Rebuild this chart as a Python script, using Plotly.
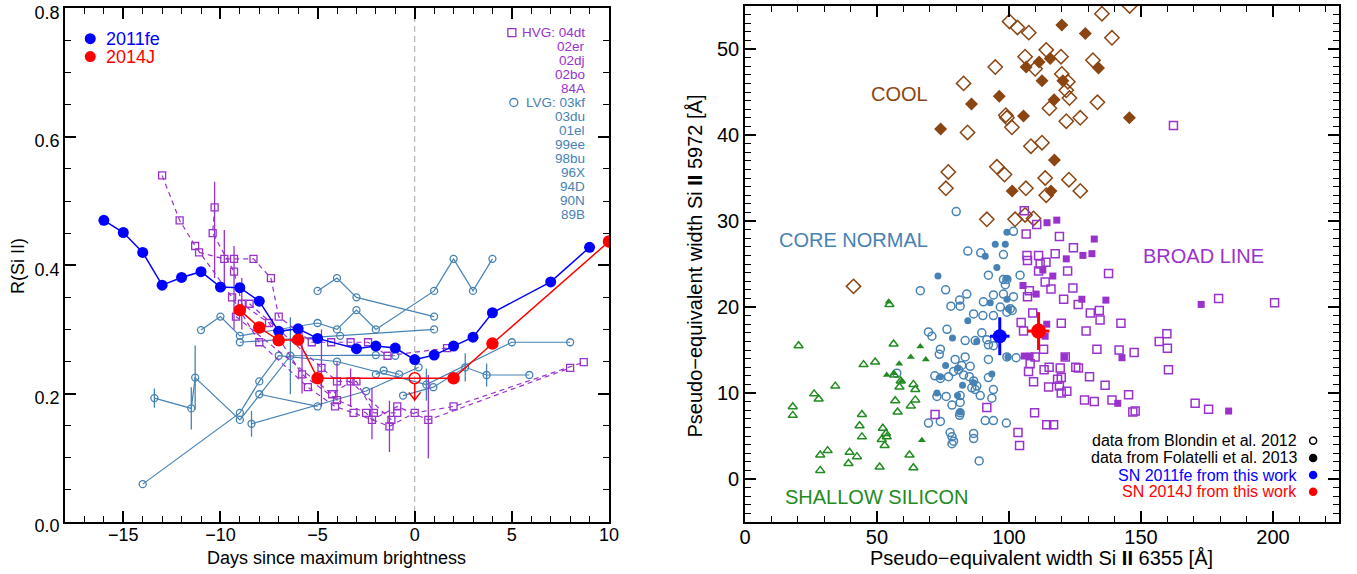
import plotly.graph_objects as go

FONT = "Liberation Sans, Arial, Helvetica, sans-serif"
HVG_COL = "#9932CC"
LVG_COL = "#4682B4"
BROWN = "#8B4513"
GREEN = "#228B22"

# ---------------- Left panel: R(Si II) versus phase ----------------
fe_days = [-16, -15, -14, -13, -12, -11, -10, -9, -8, -7, -6, -5, -3, -2, -1, 0, 1, 2, 3, 4, 7, 9]
fe_R = [0.470, 0.451, 0.420, 0.369, 0.381, 0.390, 0.366, 0.365, 0.344, 0.297, 0.301, 0.286,
        0.270, 0.274, 0.271, 0.253, 0.260, 0.274, 0.288, 0.326, 0.374, 0.428]

j_days = [-9, -8, -7, -6, -5, 0, 2, 4, 10]
j_R = [0.330, 0.303, 0.283, 0.284, 0.224, 0.224, 0.224, 0.278, 0.437]
j_upper_limit = [False, False, False, False, False, True, False, False, False]

# high-velocity-gradient objects (dashed, open squares)
hvg_04dt_d = [-13.0, -12.1, -11.3, -9.4, -8.0, -5.5, -4.1, -3.15, -1.3, 0.0, 2.0, 8.7]
hvg_04dt_r = [0.540, 0.470, 0.430, 0.350, 0.280, 0.210, 0.180, 0.170, 0.149, 0.170, 0.180, 0.249]
hvg_04dt_ep = [0, 0, 0, 0, 0, 0, 0, 0, 0.04, 0, 0, 0]
hvg_04dt_em = [0, 0, 0, 0, 0, 0, 0, 0, 0.04, 0, 0, 0]

hvg_02er_d = [-10.3, -10.4, -9.3, -8.9, -7.5, -5.8, -4.0, -2.5, -2.2, -0.9, 0.7, 8.0]
hvg_02er_r = [0.490, 0.450, 0.390, 0.340, 0.310, 0.230, 0.190, 0.170, 0.159, 0.180, 0.159, 0.240]
hvg_02er_ep = [0.04, 0, 0.04, 0.04, 0, 0.07, 0, 0, 0.05, 0, 0.07, 0]
hvg_02er_em = [0.11, 0, 0.09, 0.04, 0, 0.03, 0, 0, 0.03, 0, 0.06, 0]

hvg_02dj_d = [-11.1, -9.8, -9.3, -8.3, -7.4, -7.0, -5.3, -4.3, -3.3, -2.4, -1.4, 1.67]
hvg_02dj_r = [0.420, 0.410, 0.410, 0.410, 0.380, 0.320, 0.280, 0.280, 0.280, 0.280, 0.259, 0.271]
hvg_02dj_ep = [0, 0.045, 0, 0, 0, 0, 0, 0, 0, 0, 0, 0]
hvg_02dj_em = [0, 0.045, 0, 0, 0, 0, 0, 0, 0, 0, 0, 0]

hvg_02bo_d = [-8.5, -4.8, -4.0, -3.0, -2.1, -0.9]
hvg_02bo_r = [0.340, 0.240, 0.219, 0.219, 0.170, 0.170]
hvg_02bo_ep = [0, 0.06, 0.03, 0, 0, 0]
hvg_02bo_em = [0, 0.06, 0.03, 0, 0, 0]

hvg_84A_d = [-9.2, -4.25, -3.3, -1.2]
hvg_84A_r = [0.320, 0.199, 0.219, 0.159]
hvg_84A_ep = [0, 0, 0.02, 0]
hvg_84A_em = [0, 0, 0.04, 0]

# low-velocity-gradient objects (solid, open circles)
lvg_03kf_d = [-14.0, -9.0, -8.0, -7.0, -4.0, 0.6, 5.0, 8.0]
lvg_03kf_r = [0.059, 0.170, 0.219, 0.259, 0.250, 0.214, 0.280, 0.280]
lvg_03kf_e = [0, 0, 0, 0, 0, 0.025, 0, 0]

lvg_03du_d = [-13.4, -11.5, -11.3, -9.0, -6.4, -2.0, -1.0]
lvg_03du_r = [0.193, 0.177, 0.225, 0.159, 0.259, 0.260, 0.259]
lvg_03du_e = [0.015, 0.033, 0.05, 0, 0.06, 0, 0]

lvg_01el_d = [-11.0, -10.0, -9.0, -5.0, -4.0, -3.0, -2.0, 1.0, 2.0, 3.0, 4.0]
lvg_01el_r = [0.299, 0.320, 0.290, 0.310, 0.300, 0.330, 0.300, 0.360, 0.410, 0.360, 0.410]

lvg_99ee_d = [-5.0, -4.0, -3.0, 1.0]
lvg_99ee_r = [0.360, 0.380, 0.350, 0.320]

lvg_98bu_d = [-9.0, -3.84, 1.0]
lvg_98bu_r = [0.280, 0.290, 0.300]

lvg_96X_d = [-8.4, -2.5, 0.2]
lvg_96X_r = [0.153, 0.204, 0.241]
lvg_96X_e = [0.02, 0, 0]

lvg_94D_d = [-0.6, 0.96, 2.6, 3.7, 5.9]
lvg_94D_r = [0.197, 0.210, 0.241, 0.229, 0.229]
lvg_94D_e = [0, 0, 0.022, 0.018, 0]

lvg_90N_d = [-2.0, -1.6, -0.8]
lvg_90N_r = [0.230, 0.236, 0.230]

lvg_89B_d = [-8.0, -5.0]
lvg_89B_r = [0.199, 0.180]

hvg_names = ["HVG: 04dt", "02er", "02dj", "02bo", "84A"]
lvg_names = ["LVG: 03kf", "03du", "01el", "99ee", "98bu", "96X", "94D", "90N", "89B"]

# ---------------- Right panel: pEW(Si II 5972) versus pEW(Si II 6355) ----------------
cool_open_x = [100.2, 103.2, 107.5, 135.2, 139.0, 114.1, 119.7, 106.1, 94.8, 109.9, 120.0, 131.8, 82.8,
               122.3, 121.7, 122.9, 133.5, 115.3, 98.8, 99.2, 121.7, 127.0, 101.1, 84.3, 108.3, 112.5,
               77.0, 76.1, 95.4, 98.3, 113.7, 122.7, 106.4, 114.1, 127.0, 91.6, 102.3, 106.1, 109.3,
               41.1, 145.7]
cool_open_y = [53.2, 52.5, 51.9, 54.1, 51.3, 49.9, 49.1, 49.1, 47.9, 47.7, 47.1, 48.7, 46.0,
               46.2, 45.2, 44.3, 43.8, 43.1, 42.3, 42.0, 41.6, 42.0, 40.9, 40.3, 38.7, 39.1,
               35.7, 33.8, 36.3, 35.4, 35.0, 34.8, 33.8, 33.0, 33.5, 30.2, 30.2, 30.7, 30.3,
               22.4, 55.0]
cool_fill_x = [120.0, 128.9, 111.4, 115.6, 106.5, 133.9, 112.5, 120.4, 96.3, 85.8, 117.1, 105.5,
               145.6, 74.1, 117.2, 101.2, 115.9]
cool_fill_y = [52.8, 51.8, 48.5, 48.9, 47.9, 47.8, 46.3, 46.3, 44.5, 43.6, 44.1, 42.2,
               42.0, 40.7, 37.1, 33.5, 33.5]

core_open_x = [80.0, 101.7, 84.4, 89.3, 97.9, 92.2, 97.9, 99.2, 98.6, 104.2, 66.4, 76.0, 84.0, 81.3,
               78.0, 81.5, 90.3, 94.1, 97.9, 101.7, 96.7, 100.5, 101.2, 86.6, 90.1, 94.1, 99.2,
               69.5, 70.8, 76.5, 89.7, 92.2, 94.1, 83.4, 87.2, 91.6, 74.0, 73.6, 83.4, 79.6, 92.2,
               99.2, 102.7, 82.1, 85.3, 79.0, 80.9, 85.0, 71.9, 74.0, 77.1, 82.8, 92.2, 86.6, 87.8,
               85.9, 87.2, 94.1, 72.7, 76.2, 81.5, 89.1, 93.5, 78.4, 81.5, 57.5, 81.5, 81.3, 74.0,
               69.5, 91.0, 94.1, 99.0, 77.7, 78.4, 79.0, 78.4, 86.6, 86.6, 88.7]
core_open_y = [31.1, 28.8, 26.5, 26.3, 26.1, 23.7, 23.2, 23.2, 22.6, 23.7, 21.9, 22.0, 21.5, 20.8,
               20.1, 20.1, 20.6, 21.4, 21.5, 21.2, 20.0, 19.8, 19.6, 19.2, 19.0, 19.0, 19.4,
               17.1, 16.6, 17.4, 17.0, 15.6, 15.5, 16.1, 16.1, 16.2, 15.1, 14.5, 14.2, 13.9, 13.9,
               14.2, 14.1, 13.2, 13.1, 12.5, 12.7, 11.9, 12.0, 11.7, 11.9, 12.1, 11.8, 11.4, 10.8,
               10.6, 10.4, 10.4, 9.6, 9.6, 9.7, 9.7, 9.4, 8.6, 8.9, 12.3, 7.7, 7.4, 6.7,
               6.5, 6.8, 6.8, 6.5, 5.4, 4.9, 4.4, 4.1, 5.3, 4.7, 2.1]
core_fill_x = [99.2, 94.8, 98.6, 91.0, 95.4, 99.2, 73.1, 99.2, 92.9, 99.8, 84.4, 78.6, 87.8, 76.0,
               74.0, 80.6, 82.4, 93.5, 86.6, 80.5, 99.6, 81.5, 72.7]
core_fill_y = [28.7, 27.3, 27.3, 25.9, 24.6, 23.3, 23.6, 20.9, 20.5, 19.8, 18.4, 16.4, 16.0, 13.2,
               11.9, 12.9, 10.9, 12.2, 11.2, 9.7, 14.2, 7.8, 10.0]

broad_open_x = [106.5, 119.1, 106.8, 107.0, 111.2, 117.5, 124.4, 111.8, 114.0, 111.2, 122.2, 137.7,
                107.7, 107.0, 113.7, 115.9, 120.7, 124.2, 126.2, 130.8, 134.2, 134.5, 142.4, 109.0,
                104.6, 105.5, 119.8, 129.2, 159.8, 156.9, 160.0, 133.3, 141.7, 147.4, 113.1, 109.9,
                108.0, 107.4, 113.3, 115.2, 119.4, 119.8, 125.3, 126.3, 121.3, 130.5, 160.4, 109.3,
                115.0, 118.4, 119.1, 119.8, 121.9, 136.4, 128.6, 132.3, 139.0, 145.3, 146.9, 147.8,
                170.5, 175.6, 109.7, 114.3, 116.9, 103.4, 104.0, 91.6, 179.4, 105.8, 110.5, 162.3,
                200.6, 72.0]
broad_open_y = [28.5, 28.2, 26.0, 25.4, 26.0, 26.2, 26.9, 25.0, 25.2, 24.2, 24.2, 23.9,
                21.9, 21.2, 22.9, 22.1, 20.9, 22.2, 20.3, 19.3, 19.6, 18.5, 18.1, 19.3,
                18.2, 17.2, 18.1, 17.2, 16.9, 16.0, 15.2, 15.1, 15.0, 14.7, 15.1, 14.2,
                13.4, 12.5, 12.7, 13.0, 12.9, 11.8, 13.0, 12.9, 14.2, 11.9, 12.7, 11.3,
                10.7, 11.6, 10.8, 10.0, 10.2, 10.9, 9.2, 9.0, 9.2, 9.8, 7.8, 7.9,
                8.8, 8.1, 7.7, 6.3, 6.3, 5.4, 3.9, 8.3, 21.0, 31.2, 29.6, 41.1,
                20.5, 7.5]
broad_fill_x = [132.3, 128.0, 131.4, 121.7, 112.8, 116.6, 110.3, 105.3, 127.6, 136.7, 172.8, 114.3,
                113.7, 105.8, 108.0, 121.0, 142.8, 141.2, 183.2, 114.4, 118.1]
broad_fill_y = [27.9, 26.0, 26.2, 25.6, 24.3, 23.6, 21.5, 22.5, 20.9, 20.8, 20.3, 18.0,
                16.6, 14.3, 14.3, 14.2, 14.1, 8.8, 7.9, 29.8, 30.1]

shallow_open_x = [54.7, 20.3, 56.3, 44.9, 49.3, 34.2, 26.2, 27.9, 18.1, 18.1, 59.0, 58.5, 63.8, 64.5,
                  56.9, 62.8, 64.5, 57.8, 44.3, 43.4, 44.3, 52.2, 53.4, 51.8, 52.9, 53.7, 31.3, 28.5,
                  28.5, 39.6, 42.4, 39.2, 51.0, 62.3, 63.8, 56.5]
shallow_open_y = [20.3, 15.5, 15.7, 13.3, 13.6, 10.8, 9.9, 9.3, 8.4, 7.4, 11.4, 10.7, 11.0, 10.4,
                  9.1, 8.5, 9.2, 7.8, 7.5, 6.2, 4.9, 5.9, 5.3, 4.6, 3.9, 4.9, 3.3, 2.8,
                  1.0, 3.1, 2.6, 1.8, 1.4, 2.8, 1.3, 12.1]
shallow_fill_x = [54.4, 66.4, 62.8, 68.5, 58.4, 53.7, 56.3, 59.4, 67.0]
shallow_fill_y = [20.6, 15.4, 14.2, 13.9, 13.4, 12.1, 12.3, 11.4, 4.5]

sn11fe_pew6355, sn11fe_pew5972 = 96.5, 16.6
sn11fe_err6355, sn11fe_err5972 = 3.7, 2.2
sn14j_pew6355, sn14j_pew5972 = 111.2, 17.2
sn14j_err6355, sn14j_err5972 = 4.1, 2.2

fig = go.Figure()


def left_series(d, r, color, symbol, dash, ep=None, em=None):
    err = dict(visible=False)
    if ep is not None:
        err = dict(type="data", array=ep, arrayminus=em if em is not None else ep,
                   color=color, thickness=1.3, width=0, visible=True)
    fig.add_trace(go.Scatter(
        x=d, y=r, mode="lines+markers", xaxis="x", yaxis="y", showlegend=False,
        line=dict(color=color, width=1.2, dash=dash),
        marker=dict(symbol=symbol, size=7, color=color, line=dict(color=color, width=1.3)),
        error_y=err))


# zero-phase reference line
fig.add_shape(type="line", xref="x", yref="y", x0=0, x1=0, y0=0, y1=0.8,
              line=dict(color="#A8A8A8", width=1, dash="6px,4px"), layer="below")

# LVG curves
left_series(lvg_03kf_d, lvg_03kf_r, LVG_COL, "circle-open", "solid", lvg_03kf_e)
left_series(lvg_03du_d, lvg_03du_r, LVG_COL, "circle-open", "solid", lvg_03du_e)
left_series(lvg_01el_d, lvg_01el_r, LVG_COL, "circle-open", "solid")
left_series(lvg_99ee_d, lvg_99ee_r, LVG_COL, "circle-open", "solid")
left_series(lvg_98bu_d, lvg_98bu_r, LVG_COL, "circle-open", "solid")
left_series(lvg_96X_d, lvg_96X_r, LVG_COL, "circle-open", "solid", lvg_96X_e)
left_series(lvg_94D_d, lvg_94D_r, LVG_COL, "circle-open", "solid", lvg_94D_e)
left_series(lvg_90N_d, lvg_90N_r, LVG_COL, "circle-open", "solid")
left_series(lvg_89B_d, lvg_89B_r, LVG_COL, "circle-open", "solid")

# HVG curves
DASH = "5px,4px"
left_series(hvg_04dt_d, hvg_04dt_r, HVG_COL, "square-open", DASH, hvg_04dt_ep, hvg_04dt_em)
left_series(hvg_02er_d, hvg_02er_r, HVG_COL, "square-open", DASH, hvg_02er_ep, hvg_02er_em)
left_series(hvg_02dj_d, hvg_02dj_r, HVG_COL, "square-open", DASH, hvg_02dj_ep, hvg_02dj_em)
left_series(hvg_02bo_d, hvg_02bo_r, HVG_COL, "square-open", DASH, hvg_02bo_ep, hvg_02bo_em)
left_series(hvg_84A_d, hvg_84A_r, HVG_COL, "square-open", DASH, hvg_84A_ep, hvg_84A_em)

# SN 2011fe and SN 2014J
fig.add_trace(go.Scatter(x=fe_days, y=fe_R, mode="lines+markers", xaxis="x", yaxis="y",
                         showlegend=False, line=dict(color="#0000FF", width=1.5),
                         marker=dict(symbol="circle", size=11, color="#0000FF")))
fig.add_trace(go.Scatter(
    x=j_days, y=j_R, mode="lines+markers", xaxis="x", yaxis="y", showlegend=False,
    line=dict(color="#FF0000", width=1.5),
    marker=dict(symbol=["circle-open" if u else "circle" for u in j_upper_limit], size=11,
                color="#FF0000", line=dict(color="#FF0000", width=1.5))))

# downward arrow for the upper limit
for d, r, u in zip(j_days, j_R, j_upper_limit):
    if u:
        tip = r - 0.034
        fig.add_trace(go.Scatter(x=[d, d, None, d - 0.3, d, d + 0.3],
                                 y=[r - 0.008, tip, None, tip + 0.012, tip, tip + 0.012],
                                 mode="lines", xaxis="x", yaxis="y", showlegend=False,
                                 line=dict(color="#FF0000", width=1.5)))

annotations = []

# left legend
LEG_Y = [0.753, 0.725]
fig.add_trace(go.Scatter(x=[-16.7, -16.7], y=LEG_Y, mode="markers", xaxis="x", yaxis="y",
                         showlegend=False, marker=dict(size=11, color=["#0000FF", "#FF0000"])))
for lab, yy, col in [("2011fe", LEG_Y[0], "#0000FF"), ("2014J", LEG_Y[1], "#FF0000")]:
    annotations.append(dict(x=-16.0, y=yy, xref="x", yref="y", text=lab, showarrow=False,
                            xanchor="left", yanchor="middle", font=dict(size=18, color=col, family=FONT)))

# object list in the upper right corner
ROW0, ROWSTEP = 0.7625, 0.0218
names = hvg_names + lvg_names
cols = [HVG_COL] * len(hvg_names) + [LVG_COL] * len(lvg_names)
for i, (nm, col) in enumerate(zip(names, cols)):
    annotations.append(dict(x=8.85, y=ROW0 - i * ROWSTEP, xref="x", yref="y", text=nm,
                            showarrow=False, xanchor="right", yanchor="middle",
                            font=dict(size=13.5, color=col, family=FONT)))
fig.add_trace(go.Scatter(x=[5.0], y=[ROW0], mode="markers", xaxis="x", yaxis="y",
                         showlegend=False,
                         marker=dict(symbol="square-open", size=8, color=HVG_COL, line=dict(width=1.3))))
fig.add_trace(go.Scatter(x=[5.1], y=[ROW0 - len(hvg_names) * ROWSTEP], mode="markers", xaxis="x", yaxis="y",
                         showlegend=False,
                         marker=dict(symbol="circle-open", size=8, color=LVG_COL, line=dict(width=1.3))))


def right_points(x, y, color, symbol, size, lw=1.5):
    fig.add_trace(go.Scatter(x=x, y=y, mode="markers", xaxis="x2", yaxis="y2", showlegend=False,
                             marker=dict(symbol=symbol, size=size, color=color,
                                         line=dict(color=color, width=lw))))


right_points(cool_open_x, cool_open_y, BROWN, "diamond-open", 11)
right_points(core_open_x, core_open_y, LVG_COL, "circle-open", 8)
right_points(broad_open_x, broad_open_y, HVG_COL, "square-open", 8)
right_points(shallow_open_x, shallow_open_y, GREEN, "triangle-up-open", 8)
right_points(cool_fill_x, cool_fill_y, BROWN, "diamond", 10, 0)
right_points(core_fill_x, core_fill_y, LVG_COL, "circle", 7, 0)
right_points(broad_fill_x, broad_fill_y, HVG_COL, "square", 7, 0)
right_points(shallow_fill_x, shallow_fill_y, GREEN, "triangle-up", 7, 0)

for px, py, ex, ey, col, sz in [
        (sn11fe_pew6355, sn11fe_pew5972, sn11fe_err6355, sn11fe_err5972, "#0000FF", 14),
        (sn14j_pew6355, sn14j_pew5972, sn14j_err6355, sn14j_err5972, "#FF0000", 15)]:
    fig.add_trace(go.Scatter(x=[px], y=[py], mode="markers", xaxis="x2", yaxis="y2", showlegend=False,
                             marker=dict(symbol="circle", size=sz, color=col),
                             error_x=dict(type="data", array=[ex], color=col, thickness=3, width=0),
                             error_y=dict(type="data", array=[ey], color=col, thickness=3, width=0)))

# group labels
for txt, x, y, col in [("COOL", 58.4, 44.8, BROWN), ("CORE NORMAL", 41.0, 27.8, LVG_COL),
                       ("BROAD LINE", 173.5, 25.9, HVG_COL), ("SHALLOW SILICON", 49.9, -2.05, GREEN)]:
    annotations.append(dict(x=x, y=y, xref="x2", yref="y2", text=txt, showarrow=False,
                            xanchor="center", yanchor="middle", font=dict(size=20, color=col, family=FONT)))

# source key
key_text = ["data from Blondin et al. 2012", "data from Folatelli et al. 2013",
            "SN 2011fe from this work", "SN 2014J from this work"]
key_col = ["#000000", "#000000", "#0000FF", "#FF0000"]
key_sym = ["circle-open", "circle", "circle", "circle"]
key_y = [4.44, 2.45, 0.46, -1.47]
for t, c, yy in zip(key_text, key_col, key_y):
    annotations.append(dict(x=209.9, y=yy, xref="x2", yref="y2", text=t, showarrow=False,
                            xanchor="right", yanchor="middle", font=dict(size=16, color=c, family=FONT)))
fig.add_trace(go.Scatter(x=[215.2] * 4, y=key_y, mode="markers", xaxis="x2", yaxis="y2", showlegend=False,
                         marker=dict(symbol=key_sym, size=7, color=key_col, line=dict(color=key_col, width=1.5))))

# axis titles
for txt, x, y, ang, sz in [
        ("Days since maximum brightness", 0.2135, -0.0705, 0, 18),
        ("R(Si II)", -0.0373, 0.497, -90, 18),
        ("Pseudo\u2212equivalent width Si <b>II</b> 6355 [Å]", 0.7661, -0.0705, 0, 20),
        ("Pseudo\u2212equivalent width Si <b>II</b> 5972 [Å]", 0.4945, 0.497, -90, 20)]:
    annotations.append(dict(x=x, y=y, xref="paper", yref="paper", text=txt, showarrow=False,
                            textangle=ang, xanchor="center", yanchor="middle",
                            font=dict(size=sz, color="black", family=FONT)))

axis_common = dict(showline=True, linecolor="black", linewidth=1.6, mirror="allticks", ticks="inside",
                   ticklen=11, tickwidth=1.6, tickcolor="black", showgrid=False, zeroline=False,
                   automargin=False, tickmode="linear", ticklabeloverflow="allow", layer="above traces")


def minor(step):
    return dict(tickmode="linear", tick0=0, dtick=step, ticks="inside", ticklen=6,
                tickwidth=1.4, tickcolor="black", showgrid=False)


fig.update_layout(
    width=1357, height=574, plot_bgcolor="white", paper_bgcolor="white",
    margin=dict(l=65, r=18, t=6, b=52),
    font=dict(family=FONT, color="black"),
    showlegend=False,
    annotations=annotations,
    xaxis=dict(domain=[0, 0.4270], range=[-18, 10], tick0=0, dtick=5, minor=minor(1),
               tickfont=dict(size=18), ticklabelstandoff=-4, **axis_common),
    yaxis=dict(domain=[0, 0.9952], range=[0, 0.8], tick0=0, dtick=0.2, tickformat=".1f",
               minor=minor(0.05), tickfont=dict(size=18), ticklabelshift=4, **axis_common),
    xaxis2=dict(domain=[0.53375, 1], range=[0, 225], tick0=0, dtick=50, minor=minor(10),
                tickfont=dict(size=20), anchor="y2", ticklabelstandoff=-4, **axis_common),
    yaxis2=dict(domain=[0, 1], range=[-5, 55], tick0=0, dtick=10, minor=minor(1),
                tickfont=dict(size=20), anchor="x2", **axis_common),
)

fig.write_html("out.html")
